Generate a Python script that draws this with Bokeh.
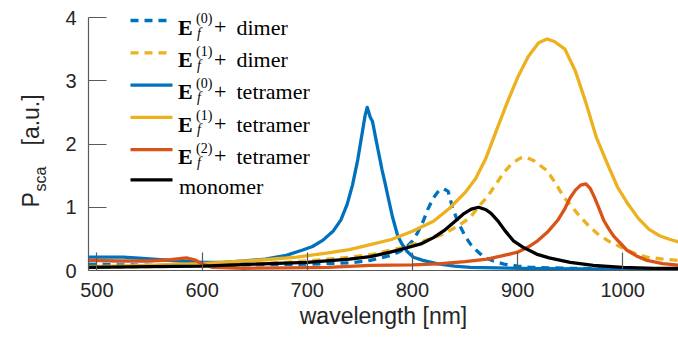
import math
from bokeh.plotting import figure
from bokeh.layouts import row
from bokeh.models import Label, FixedTicker, Range1d
from bokeh.core.properties import value
from bokeh.embed import file_html
from bokeh.resources import INLINE

# ---------------- data ----------------
wl_dimer0 = [492, 520, 560, 600, 650, 700, 740, 760, 770, 780, 788, 795, 800, 805, 810, 815, 820, 825, 830,
             834, 838, 842, 846, 850, 855, 862, 868, 877, 887, 900, 912, 950, 1000, 1060]
p_dimer0 = [0.10, 0.09, 0.08, 0.085, 0.09, 0.10, 0.12, 0.16, 0.20, 0.24, 0.30, 0.38, 0.47, 0.60, 0.77, 0.98, 1.15,
            1.26, 1.29, 1.25, 1.00, 0.82, 0.68, 0.55, 0.42, 0.30, 0.21, 0.15, 0.10, 0.07, 0.05, 0.035, 0.025, 0.02]

wl_dimer1 = [492, 550, 600, 643, 680, 706, 740, 763, 792, 810, 830, 845, 855, 865, 871, 880, 887, 895, 903, 908,
             915, 928, 936, 944, 952, 960, 968, 976, 987, 998, 1010, 1023, 1038, 1060]
p_dimer1 = [0.05, 0.06, 0.07, 0.10, 0.13, 0.16, 0.21, 0.26, 0.37, 0.46, 0.58, 0.72, 0.84, 1.05, 1.16, 1.38, 1.55,
            1.70, 1.78, 1.79, 1.74, 1.58, 1.38, 1.16, 1.00, 0.84, 0.70, 0.58, 0.46, 0.37, 0.28, 0.21, 0.18, 0.15]

wl_tetra0 = [492, 510, 525, 540, 560, 580, 600, 620, 640, 660, 680, 695, 705, 715, 725, 732, 738, 743, 748, 752,
             755, 757, 760, 762, 765, 768, 771, 774, 777, 781, 786, 790, 795, 801, 810, 823, 840, 855, 880, 920,
             1000, 1060]
p_tetra0 = [0.21, 0.21, 0.21, 0.195, 0.17, 0.15, 0.13, 0.13, 0.15, 0.18, 0.24, 0.32, 0.38, 0.48, 0.63, 0.80, 1.05,
            1.35, 1.75, 2.15, 2.45, 2.58, 2.42, 2.36, 2.10, 1.85, 1.60, 1.38, 1.15, 0.85, 0.55, 0.42, 0.30, 0.21,
            0.16, 0.11, 0.07, 0.05, 0.04, 0.03, 0.02, 0.02]

wl_tetra1 = [492, 520, 550, 580, 600, 630, 660, 690, 720, 740, 760, 780, 800, 820, 835, 850, 860, 870, 880, 890,
             900, 910, 920, 928, 935, 945, 955, 965, 975, 985, 995, 1005, 1015, 1025, 1035, 1045, 1060]
p_tetra1 = [0.06, 0.07, 0.08, 0.10, 0.11, 0.14, 0.17, 0.21, 0.28, 0.33, 0.41, 0.49, 0.62, 0.78, 0.98, 1.23, 1.45,
            1.78, 2.22, 2.65, 3.05, 3.38, 3.60, 3.66, 3.62, 3.50, 3.15, 2.65, 2.10, 1.70, 1.32, 1.05, 0.82, 0.65,
            0.55, 0.49, 0.42]

wl_tetra2 = [492, 520, 550, 570, 585, 593, 600, 610, 640, 680, 720, 760, 800, 824, 850, 871, 885, 900, 910, 919,
             928, 938, 945, 950, 955, 960, 965, 969, 973, 978, 982, 987, 992, 1004, 1013, 1023, 1038, 1060]
p_tetra2 = [0.16, 0.15, 0.15, 0.17, 0.20, 0.17, 0.10, 0.05, 0.035, 0.04, 0.05, 0.08, 0.09, 0.105, 0.14, 0.18, 0.23,
            0.29, 0.37, 0.47, 0.60, 0.79, 0.98, 1.15, 1.27, 1.35, 1.37, 1.30, 1.16, 0.96, 0.79, 0.65, 0.53, 0.32,
            0.23, 0.16, 0.11, 0.07]

wl_mono = [492, 550, 600, 650, 700, 740, 760, 779, 795, 808, 820, 830, 840, 849, 856, 863, 870, 875, 881, 888,
           896, 905, 918, 930, 950, 972, 1000, 1030, 1060]
p_mono = [0.05, 0.06, 0.07, 0.10, 0.13, 0.18, 0.22, 0.29, 0.36, 0.42, 0.52, 0.63, 0.77, 0.90, 0.97, 1.00, 0.96,
          0.90, 0.79, 0.63, 0.47, 0.37, 0.26, 0.20, 0.13, 0.08, 0.05, 0.035, 0.03]

x_ticks = [500, 600, 700, 800, 900, 1000]
y_ticks = [0, 1, 2, 3, 4]

sup_labels = ["(0)", "(1)", "(0)", "(1)", "(2)"]
word_labels = ["dimer", "dimer", "tetramer", "tetramer", "tetramer"]
mono_label = "monomer"
x_title = "wavelength [nm]"
y_title_main, y_title_sub, y_title_unit = "P", "sca", "[a.u.]"

# ---------------- styling / layout ----------------
BLUE, YELLOW, ORANGE, BLACK = "#0072BD", "#EDB120", "#D95319", "#000000"
W, H = 678, 339
STRIP = 50                    # narrow strip on the left holding the y title
FL, FR, FB = 88, 678, 270     # frame left / right / bottom (px)
Y4_PX = 17                    # pixel row of y = 4 (top of the y axis line)
X0, X1, Y0, YTOP = 492, 1053, 0, 4
PXU = (FB - Y4_PX) / (YTOP - Y0)      # px per y unit
Y1 = YTOP + Y4_PX / PXU               # frame reaches the top of the canvas
LW = 3.3
DASH = "8 6"
TXT = "#262626"
AX = "#5a5a5a"

def dx(px):
    return X0 + (px - FL) * (X1 - X0) / (FR - FL)

def dy(py):
    return Y0 + (FB - py) / PXU

p = figure(width=W - STRIP, height=H, output_backend="svg", toolbar_location=None, title=None,
           x_range=Range1d(X0, X1), y_range=Range1d(Y0, Y1),
           min_border_left=FL - STRIP, min_border_right=W - FR, min_border_top=0, min_border_bottom=H - FB)
p.outline_line_color = None
p.xgrid.visible = False
p.ygrid.visible = False

for ax in (p.xaxis[0], p.yaxis[0]):
    ax.axis_line_color = AX
    ax.axis_line_width = 1.2
    ax.major_tick_line_color = AX
    ax.major_tick_line_width = 1.2
    ax.major_tick_in = 18
    ax.major_tick_out = 0
    ax.minor_tick_line_color = None
    ax.major_label_text_font = "Liberation Sans"
    ax.major_label_text_font_size = "20px"
    ax.major_label_text_color = TXT
    ax.major_label_standoff = 12

p.yaxis.bounds = (Y0, YTOP)
p.xaxis.ticker = FixedTicker(ticks=x_ticks)
p.yaxis.ticker = FixedTicker(ticks=y_ticks)
p.xaxis.axis_label = x_title
p.xaxis.axis_label_text_font = "Liberation Sans"
p.xaxis.axis_label_text_font_size = "23px"
p.xaxis.axis_label_text_font_style = "normal"
p.xaxis.axis_label_text_color = TXT
p.xaxis.axis_label_standoff = 3

# ---------------- curves ----------------
series = [
    (wl_dimer0, p_dimer0, BLUE, DASH),
    (wl_dimer1, p_dimer1, YELLOW, DASH),
    (wl_tetra0, p_tetra0, BLUE, "solid"),
    (wl_tetra1, p_tetra1, YELLOW, "solid"),
    (wl_tetra2, p_tetra2, ORANGE, "solid"),
    (wl_mono, p_mono, BLACK, "solid"),
]
for xs, ys, col, dash in series:
    p.line(xs, ys, line_color=col, line_width=LW, line_dash=dash, line_join="round")

# ---------------- legend (hand-built for sub/superscripts) ----------------
rows = [20, 52.3, 84.6, 116.9, 149.2, 179.3]
for (xs, ys, col, dash), r in zip(series, rows):
    p.line([dx(130), dx(172)], [dy(r), dy(r)], line_color=col, line_width=LW, line_dash=dash)

SERIF = "Liberation Serif"
def lab(px, py, text, size, style="normal"):
    p.add_layout(Label(x=dx(px), y=dy(py), text=text, text_font=SERIF, text_font_size=size,
                       text_font_style=style, text_color="black", text_baseline="alphabetic"))

for i, r in enumerate(rows[:5]):
    lab(177.5, r + 6.7, "E", "22px", "bold")
    lab(195.5, r - 1.7, sup_labels[i], "14px")
    lab(196.5, r + 12.5, "f", "14px", "italic")
    lab(213.5, r + 6.7, "+", "22px")
    lab(236.0, r + 6.7, word_labels[i], "22px")
lab(178.5, rows[5] + 6.7, mono_label, "22px")

# ---------------- y title strip: P_sca [a.u.] ----------------
q = figure(width=STRIP, height=H, output_backend="svg", toolbar_location=None, title=None,
           x_range=Range1d(0, STRIP), y_range=Range1d(Y0, Y1),
           min_border_left=0, min_border_right=0, min_border_top=0, min_border_bottom=H - FB)
q.axis.visible = False
q.grid.visible = False
q.outline_line_color = None
ang = math.pi / 2
q.text(x=[30.7, 30.7], y=[dy(207), dy(145)], text=[y_title_main, y_title_unit], angle=ang,
       text_font=value("Liberation Sans"), text_font_size="23px", text_color=TXT,
       text_baseline="alphabetic", text_align="left")
q.text(x=[40.0], y=[dy(191)], text=[y_title_sub], angle=ang,
       text_font=value("Liberation Sans"), text_font_size="16px", text_color=TXT,
       text_baseline="alphabetic", text_align="left")

layout = row(q, p)
open("out.html", "w").write(file_html(layout, INLINE))
